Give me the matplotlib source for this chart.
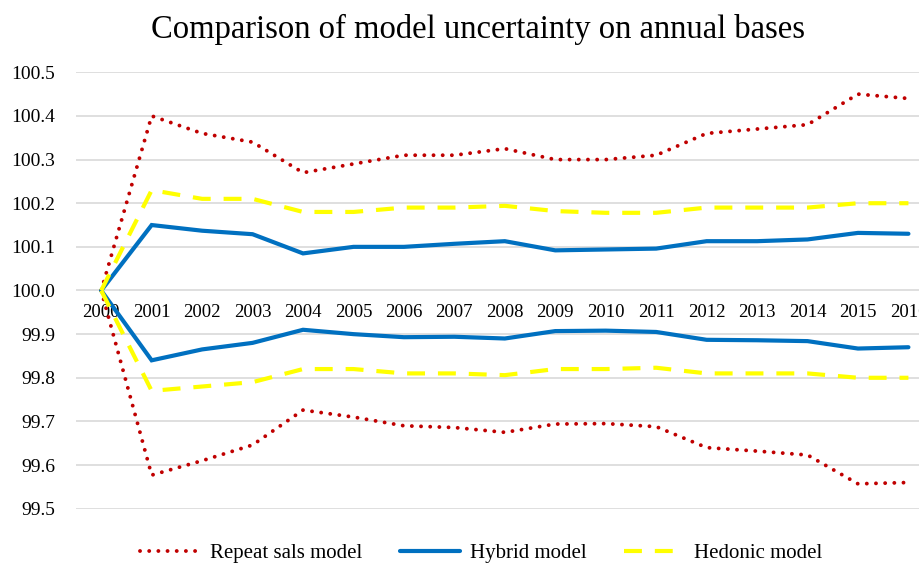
import matplotlib
matplotlib.use("Agg")
import matplotlib.pyplot as plt

plt.rcParams['font.family'] = ['Liberation Serif', 'DejaVu Serif']

years = list(range(2000, 2017))

repeat_upper = [100.00, 100.40, 100.36, 100.34, 100.27, 100.29, 100.31, 100.31, 100.325,
                100.30, 100.30, 100.31, 100.36, 100.37, 100.38, 100.45, 100.44]
repeat_lower = [100.00, 99.577, 99.61, 99.646, 99.726, 99.71, 99.69, 99.686, 99.675,
                99.694, 99.695, 99.688, 99.64, 99.632, 99.623, 99.557, 99.56]

hybrid_upper = [100.00, 100.15, 100.137, 100.129, 100.085, 100.10, 100.10, 100.107, 100.113,
                100.092, 100.094, 100.096, 100.113, 100.113, 100.117, 100.132, 100.13]
hybrid_lower = [100.00, 99.84, 99.865, 99.88, 99.91, 99.90, 99.893, 99.894, 99.89,
                99.907, 99.908, 99.905, 99.887, 99.886, 99.884, 99.867, 99.87]

hedonic_upper = [100.00, 100.23, 100.21, 100.21, 100.18, 100.18, 100.19, 100.19, 100.194,
                 100.182, 100.178, 100.178, 100.19, 100.19, 100.19, 100.20, 100.20]
hedonic_lower = [100.00, 99.77, 99.78, 99.79, 99.82, 99.82, 99.81, 99.81, 99.806,
                 99.82, 99.82, 99.823, 99.81, 99.81, 99.81, 99.80, 99.80]

y_ticks = [99.5, 99.6, 99.7, 99.8, 99.9, 100.0, 100.1, 100.2, 100.3, 100.4, 100.5]

RED = '#C00000'
BLUE = '#0070C0'
YELLOW = '#FFFF00'

fig = plt.figure(figsize=(9.2, 5.67), dpi=100)
ax = fig.add_axes([76 / 920, 1 - 508.7 / 567, 17 * 50.45 / 920, (508.7 - 72.3) / 567])

dot_style = dict(color=RED, lw=2.8, linestyle=(0, (0.01, 2.35)), dash_capstyle='round')
dash_style = dict(color=YELLOW, lw=3.0, linestyle=(0, (4.3, 3.1)))
solid_style = dict(color=BLUE, lw=3.0, solid_capstyle='round', solid_joinstyle='miter')

ax.plot(years, repeat_upper, label='Repeat sals model', **dot_style)
ax.plot(years, repeat_lower, **dot_style)
ax.plot(years, hybrid_upper, label='Hybrid model', **solid_style)
ax.plot(years, hybrid_lower, **solid_style)
ax.plot(years, hedonic_upper, label='Hedonic model', **dash_style)
ax.plot(years, hedonic_lower, **dash_style)

ax.set_xlim(1999.5, 2016.5)
ax.set_ylim(99.5, 100.5)
ax.set_yticks(y_ticks)
ax.set_yticklabels([f'{v:.1f}' for v in y_ticks])
ax.set_xticks(years)
ax.set_xticklabels([str(y) for y in years])

ax.grid(axis='y', color='#D9D9D9', lw=1.2)
ax.set_axisbelow(True)
for side in ['top', 'right', 'left']:
    ax.spines[side].set_visible(False)
ax.spines['bottom'].set_position(('data', 100.0))
ax.spines['bottom'].set_visible(False)
ax.tick_params(axis='x', length=0, pad=10, labelsize=13.5)
ax.tick_params(axis='y', length=0, pad=15, labelsize=14)

fig.text(0.52, 1 - 38 / 567, 'Comparison of model uncertainty on annual bases',
         fontsize=23.5, ha='center', va='baseline')

fig.legend(loc='center', bbox_to_anchor=(0.523, 1 - 553 / 567), ncol=3, frameon=False,
           fontsize=15, handlelength=2.9, columnspacing=1.8, handletextpad=0.45)

fig.savefig('out.png', dpi=100)
